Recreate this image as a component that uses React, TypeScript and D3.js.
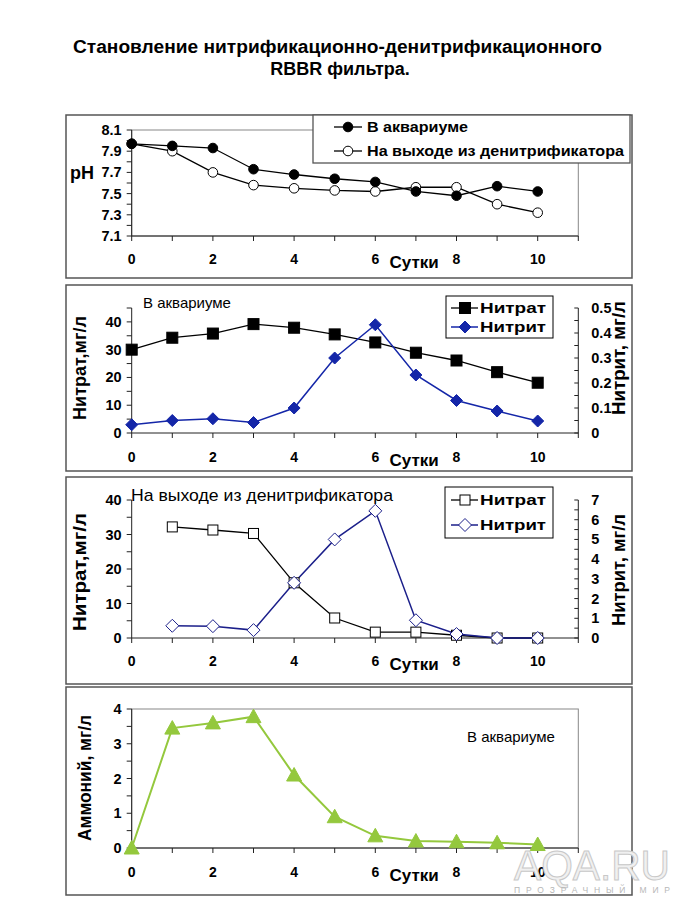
import React from "react";
import * as d3 from "d3";

const days = [0, 1, 2, 3, 4, 5, 6, 7, 8, 9, 10];
const phAquarium = [7.97, 7.95, 7.93, 7.73, 7.68, 7.64, 7.61, 7.52, 7.48, 7.57, 7.52];
const phOutlet = [7.97, 7.9, 7.7, 7.58, 7.55, 7.53, 7.52, 7.56, 7.56, 7.4, 7.32];
const nitrateAquarium = [30, 34.3, 35.8, 39.2, 37.9, 35.5, 32.6, 28.9, 26.1, 21.9, 18.1];
const nitriteAquarium = [0.033, 0.05, 0.057, 0.042, 0.1, 0.3, 0.433, 0.232, 0.13, 0.088, 0.048];
const outletDays = [1, 2, 3, 4, 5, 6, 7, 8, 9, 10];
const nitrateOutlet = [32.2, 31.3, 30.3, 16, 5.8, 1.7, 1.7, 0.8, 0, 0];
const nitriteOutlet = [0.62, 0.6, 0.4, 2.8, 5.0, 6.45, 0.9, 0.2, 0, 0];
const ammonium = [0, 3.45, 3.6, 3.78, 2.1, 0.9, 0.35, 0.2, 0.18, 0.15, 0.1];

const xTickLabels = [0, 2, 4, 6, 8, 10];
const titleLines = ["Становление нитрификационно-денитрификационного", "RBBR фильтра."];
const xAxisTitle = "Сутки";
const legendPh = ["В аквариуме", "На выходе из денитрификатора"];
const legendN = ["Нитрат", "Нитрит"];

const FONT = "'Liberation Sans', Arial, sans-serif";
const BLUE = "#1426A8";
const NAVY = "#1B1F8A";
const GREEN = "#94C83D";
const BOX = "#555";

const x = d3.scaleLinear().domain([0, 11]).range([131.7, 578.3]);
const allTicks = d3.range(0, 12);

function range(a: number, b: number, s: number) {
  const out: number[] = [];
  for (let v = a; v <= b + 1e-9; v += s) out.push(+v.toFixed(4));
  return out;
}

function Panel({ top, bottom }: { top: number; bottom: number }) {
  return <rect x={66} y={top} width={566} height={bottom - top} fill="white" stroke={BOX} strokeWidth={1.5} />;
}

function XAxis({ y0, labelY }: { y0: number; labelY: number }) {
  return (
    <g>
      <line x1={x(0)} x2={x(11)} y1={y0} y2={y0} stroke="#222" strokeWidth={1} />
      {allTicks.map((t) => (
        <line key={t} x1={x(t)} x2={x(t)} y1={y0} y2={y0 + 5} stroke="#222" />
      ))}
      {xTickLabels.map((t) => (
        <text key={t} x={x(t)} y={labelY} textAnchor="middle" fontFamily={FONT} fontWeight="bold" fontSize={14}>
          {t}
        </text>
      ))}
      <text x={x(6.35)} y={labelY + 4} fontFamily={FONT} fontWeight="bold" fontSize={17}>
        {xAxisTitle}
      </text>
    </g>
  );
}

function YAxisLeft({ y, ticks, labels, fmt }: { y: d3.ScaleLinear<number, number>; ticks: number[]; labels: number[]; fmt: (v: number) => string }) {
  const x0 = x(0);
  const [r0, r1] = y.range();
  return (
    <g>
      <line x1={x0} x2={x0} y1={r0} y2={r1} stroke="#222" />
      {ticks.map((t) => (
        <line key={t} x1={x0 - 5} x2={x0} y1={y(t)} y2={y(t)} stroke="#222" />
      ))}
      {labels.map((t) => (
        <text key={t} x={x0 - 10} y={y(t) + 5} textAnchor="end" fontFamily={FONT} fontWeight="bold" fontSize={14.5}>
          {fmt(t)}
        </text>
      ))}
    </g>
  );
}

function YAxisRight({ y, ticks, labels, fmt }: { y: d3.ScaleLinear<number, number>; ticks: number[]; labels: number[]; fmt: (v: number) => string }) {
  const x0 = x(11);
  const [r0, r1] = y.range();
  return (
    <g>
      <line x1={x0} x2={x0} y1={r0} y2={r1} stroke="#222" />
      {ticks.map((t) => (
        <line key={t} x1={x0 - 4} x2={x0} y1={y(t)} y2={y(t)} stroke="#222" />
      ))}
      {labels.map((t) => (
        <text key={t} x={x0 + 13} y={y(t) + 5} textAnchor="start" fontFamily={FONT} fontWeight="bold" fontSize={14.5}>
          {fmt(t)}
        </text>
      ))}
    </g>
  );
}

function VTitle({ cx, cy, text, len }: { cx: number; cy: number; text: string; len: number }) {
  return (
    <text
      transform={`translate(${cx},${cy}) rotate(-90)`}
      textAnchor="middle"
      dominantBaseline="central"
      fontFamily={FONT}
      fontWeight="bold"
      fontSize={18}
      textLength={len}
      lengthAdjust="spacingAndGlyphs"
    >
      {text}
    </text>
  );
}

function Circle({ cx, cy, filled }: { cx: number; cy: number; filled: boolean }) {
  return <circle cx={cx} cy={cy} r={4.8} fill={filled ? "#000" : "#fff"} stroke="#000" strokeWidth={1} />;
}
function Square({ cx, cy, filled, s = 11 }: { cx: number; cy: number; filled: boolean; s?: number }) {
  return <rect x={cx - s / 2} y={cy - s / 2} width={s} height={s} fill={filled ? "#000" : "#fff"} stroke="#000" strokeWidth={1} />;
}
function Diamond({ cx, cy, fill, stroke, s = 6 }: { cx: number; cy: number; fill: string; stroke: string; s?: number }) {
  return <path d={`M${cx},${cy - s}L${cx + s},${cy}L${cx},${cy + s}L${cx - s},${cy}Z`} fill={fill} stroke={stroke} strokeWidth={1} />;
}
function Triangle({ cx, cy }: { cx: number; cy: number }) {
  const s = 7.5;
  return <path d={`M${cx},${cy - s}L${cx + s},${cy + s * 0.8}L${cx - s},${cy + s * 0.8}Z`} fill={GREEN} stroke={GREEN} strokeWidth={1} />;
}

function Txt({ x: tx, y: ty, text, size, bold, len, anchor }: { x: number; y: number; text: string; size: number; bold?: boolean; len?: number; anchor?: string }) {
  return (
    <text
      x={tx}
      y={ty}
      fontFamily={FONT}
      fontWeight={bold ? "bold" : "normal"}
      fontSize={size}
      textAnchor={anchor || "start"}
      textLength={len}
      lengthAdjust={len ? "spacingAndGlyphs" : undefined}
    >
      {text}
    </text>
  );
}

export default function App() {
  const yPh = d3.scaleLinear().domain([7.1, 8.1]).range([236, 130]);
  const linePh = d3.line<number>().x((_, i) => x(days[i])).y((v) => yPh(v));

  const yN2 = d3.scaleLinear().domain([0, 45]).range([433, 308]);
  const yNi2 = d3.scaleLinear().domain([0, 0.5]).range([433, 308]);
  const lineN2 = d3.line<number>().x((_, i) => x(days[i])).y((v) => yN2(v));
  const lineNi2 = d3.line<number>().x((_, i) => x(days[i])).y((v) => yNi2(v));

  const yN3 = d3.scaleLinear().domain([0, 40]).range([638, 500]);
  const yNi3 = d3.scaleLinear().domain([0, 7]).range([638, 500]);
  const lineN3 = d3.line<number>().x((_, i) => x(outletDays[i])).y((v) => yN3(v));
  const lineNi3 = d3.line<number>().x((_, i) => x(outletDays[i])).y((v) => yNi3(v));

  const yA = d3.scaleLinear().domain([0, 4]).range([848, 709]);
  const lineA = d3.line<number>().x((_, i) => x(days[i])).y((v) => yA(v));

  return (
    <svg width={675} height={900} style={{ position: "absolute", left: 0, top: 0, background: "white" }}>
      <rect x={0} y={0} width={675} height={900} fill="white" />
      {/* Title */}
      <Txt x={73} y={53} text={titleLines[0]} size={18} bold len={529} />
      <Txt x={340} y={75} text={titleLines[1]} size={18} bold anchor="middle" />

      {/* Panel 1 */}
      <Panel top={115} bottom={278} />
      <rect x={x(0)} y={yPh(8.1)} width={x(11) - x(0)} height={yPh(7.1) - yPh(8.1)} fill="none" stroke="#888" />
      <YAxisLeft y={yPh} ticks={range(7.1, 8.1, 0.1)} labels={range(7.1, 8.1, 0.2)} fmt={(v) => v.toFixed(1)} />
      <XAxis y0={yPh(7.1)} labelY={264} />
      <text x={70} y={179} fontFamily={FONT} fontWeight="bold" fontSize={18}>pH</text>
      <path d={linePh(phOutlet) || ""} fill="none" stroke="#000" strokeWidth={1.3} />
      <path d={linePh(phAquarium) || ""} fill="none" stroke="#000" strokeWidth={1.3} />
      {phOutlet.map((v, i) => <Circle key={"o" + i} cx={x(days[i])} cy={yPh(v)} filled={false} />)}
      {phAquarium.map((v, i) => <Circle key={"a" + i} cx={x(days[i])} cy={yPh(v)} filled={true} />)}
      <rect x={313} y={115} width={317} height={48} fill="white" stroke={BOX} strokeWidth={1.3} />
      <line x1={334} x2={362} y1={127} y2={127} stroke="#000" strokeWidth={1.3} />
      <Circle cx={348} cy={127} filled={true} />
      <Txt x={367} y={132} text={legendPh[0]} size={15} bold len={101} />
      <line x1={334} x2={362} y1={151} y2={151} stroke="#000" strokeWidth={1.3} />
      <Circle cx={348} cy={151} filled={false} />
      <Txt x={367} y={156} text={legendPh[1]} size={15} bold len={257} />

      {/* Panel 2 */}
      <Panel top={285} bottom={471} />
      <YAxisLeft y={yN2} ticks={range(0, 45, 5)} labels={range(0, 40, 10)} fmt={(v) => String(v)} />
      <YAxisRight y={yNi2} ticks={range(0, 0.5, 0.05)} labels={range(0, 0.5, 0.1)} fmt={(v) => (v === 0 ? "0" : String(v))} />
      <XAxis y0={yN2(0)} labelY={462} />
      <VTitle cx={80} cy={368} text="Нитрат,мг/л" len={104} />
      <VTitle cx={619} cy={358} text="Нитрит, мг/л" len={114} />
      <Txt x={143} y={308} text="В аквариуме" size={15} />
      <path d={lineN2(nitrateAquarium) || ""} fill="none" stroke="#000" strokeWidth={1.3} />
      <path d={lineNi2(nitriteAquarium) || ""} fill="none" stroke={BLUE} strokeWidth={1.5} />
      {nitrateAquarium.map((v, i) => <Square key={"n" + i} cx={x(days[i])} cy={yN2(v)} filled={true} />)}
      {nitriteAquarium.map((v, i) => <Diamond key={"d" + i} cx={x(days[i])} cy={yNi2(v)} fill={BLUE} stroke={BLUE} />)}
      <rect x={446} y={296} width={107} height={42} fill="white" stroke="#000" strokeWidth={1} />
      <line x1={451} x2={478} y1={308} y2={308} stroke="#000" strokeWidth={1.3} />
      <Square cx={465} cy={308} filled={true} />
      <Txt x={480} y={313} text={legendN[0]} size={15} bold len={66} />
      <line x1={451} x2={478} y1={327} y2={327} stroke={BLUE} strokeWidth={1.5} />
      <Diamond cx={465} cy={327} fill={BLUE} stroke={BLUE} />
      <Txt x={480} y={332} text={legendN[1]} size={15} bold len={66} />

      {/* Panel 3 */}
      <Panel top={477} bottom={684} />
      <YAxisLeft y={yN3} ticks={range(0, 40, 5)} labels={range(0, 40, 10)} fmt={(v) => String(v)} />
      <YAxisRight y={yNi3} ticks={range(0, 7, 0.5)} labels={range(0, 7, 1)} fmt={(v) => String(v)} />
      <XAxis y0={yN3(0)} labelY={666} />
      <VTitle cx={80} cy={572} text="Нитрат,мг/л" len={118} />
      <VTitle cx={619} cy={570} text="Нитрит, мг/л" len={112} />
      <Txt x={131} y={501} text="На выходе из денитрификатора" size={17} len={262} />
      <path d={lineN3(nitrateOutlet) || ""} fill="none" stroke="#000" strokeWidth={1.3} />
      <path d={lineNi3(nitriteOutlet) || ""} fill="none" stroke={NAVY} strokeWidth={1.5} />
      {nitrateOutlet.map((v, i) => <Square key={"n" + i} cx={x(outletDays[i])} cy={yN3(v)} filled={false} s={10} />)}
      {nitriteOutlet.map((v, i) => <Diamond key={"d" + i} cx={x(outletDays[i])} cy={yNi3(v)} fill="#fff" stroke={NAVY} s={6.5} />)}
      <rect x={445} y={487} width={108} height={51} fill="white" stroke="#000" strokeWidth={1} />
      <line x1={451} x2={478} y1={500} y2={500} stroke="#000" strokeWidth={1.3} />
      <Square cx={465} cy={500} filled={false} s={10} />
      <Txt x={480} y={505} text={legendN[0]} size={15} bold len={66} />
      <line x1={451} x2={478} y1={525} y2={525} stroke={NAVY} strokeWidth={1.5} />
      <Diamond cx={465} cy={525} fill="#fff" stroke={NAVY} s={6.5} />
      <Txt x={480} y={530} text={legendN[1]} size={15} bold len={66} />

      {/* Panel 4 */}
      <Panel top={687} bottom={895} />
      <rect x={x(0)} y={yA(4)} width={x(11) - x(0)} height={yA(0) - yA(4)} fill="none" stroke="#888" />
      <YAxisLeft y={yA} ticks={range(0, 4, 0.5)} labels={range(0, 4, 1)} fmt={(v) => String(v)} />
      <XAxis y0={yA(0)} labelY={877} />
      <VTitle cx={85} cy={778} text="Аммоний, мг/л" len={126} />
      <Txt x={467} y={742} text="В аквариуме" size={15} />
      <path d={lineA(ammonium) || ""} fill="none" stroke={GREEN} strokeWidth={2} />
      {ammonium.map((v, i) => <Triangle key={"t" + i} cx={x(days[i])} cy={yA(v)} />)}

      {/* Watermark */}
      <text x={514} y={880} fontFamily={FONT} fontSize={42} fill="#f0f0f0" stroke="#c8c8c8" strokeWidth={1} textLength={156} lengthAdjust="spacingAndGlyphs">AQA.RU</text>
      <text x={514} y={893} fontFamily={FONT} fontSize={8.5} fill="#b8b8b8" textLength={156} lengthAdjust="spacing">ПРОЗРАЧНЫЙ МИР</text>
    </svg>
  );
}
